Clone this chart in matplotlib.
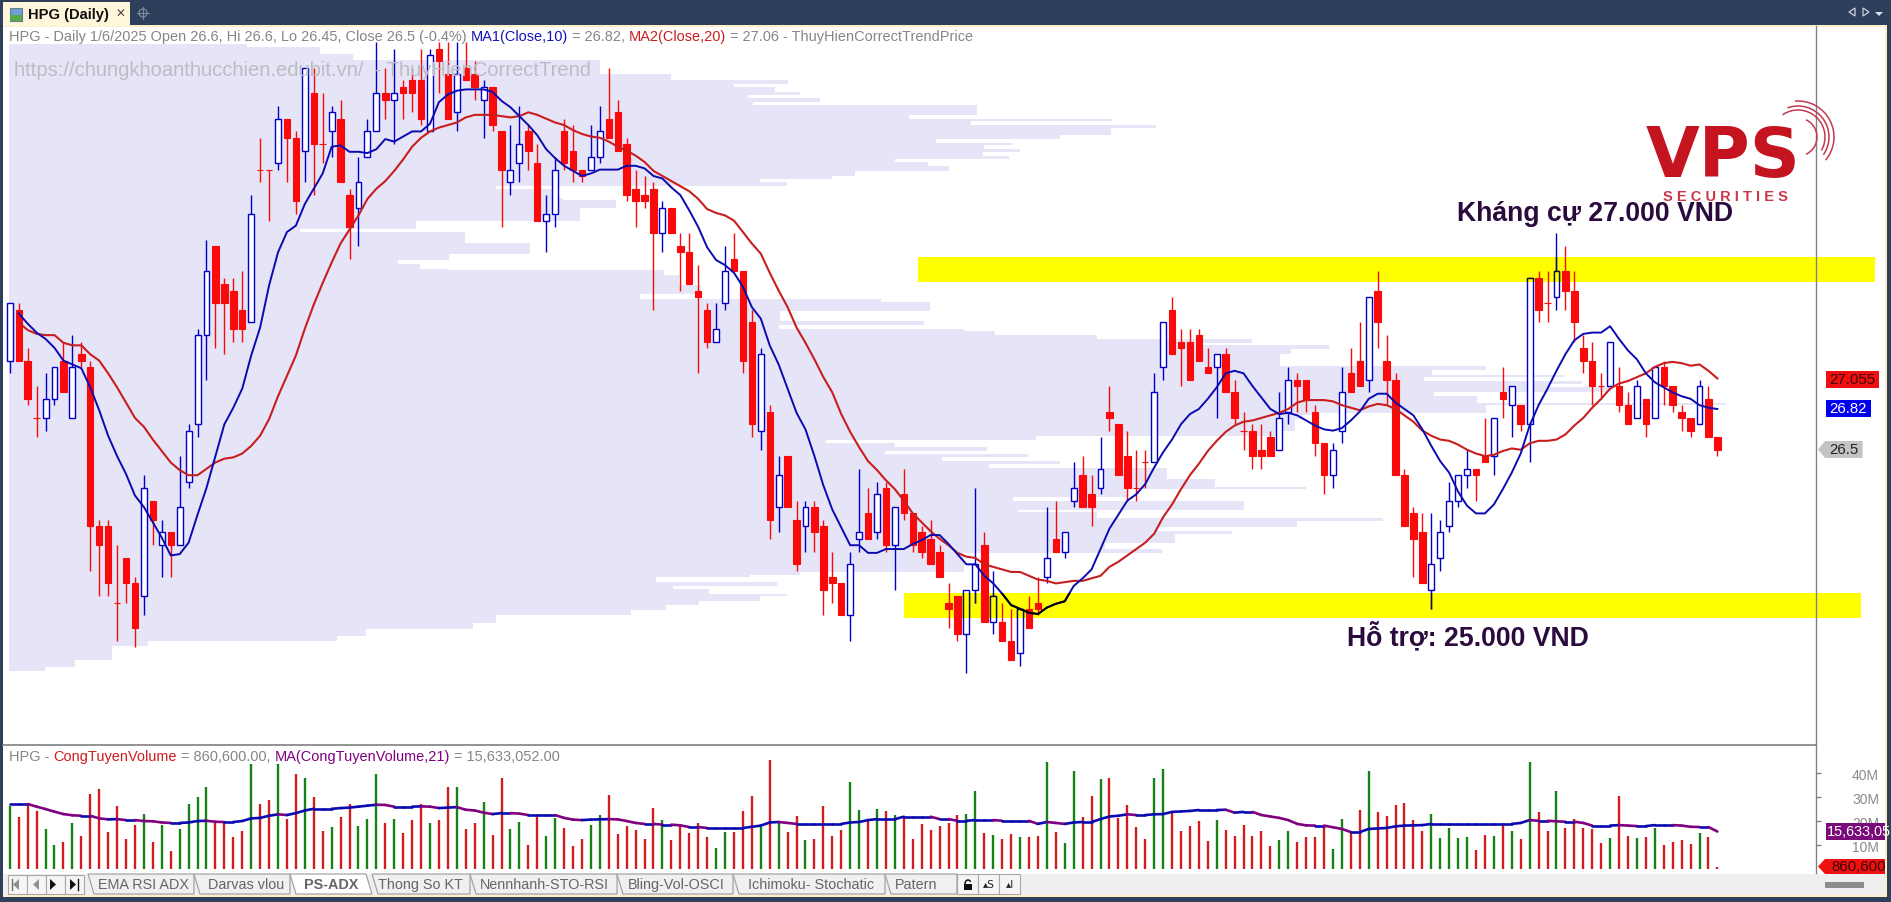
import numpy as np
import matplotlib
matplotlib.use("Agg")
import matplotlib.pyplot as plt
from matplotlib.patches import Rectangle, Polygon, Arc, Circle

# ---------- price data (HPG daily) ----------
opens = [27.2,27.6,27.2,26.75,26.75,26.9,27.2,26.75,27.25,27.15,
 25.9,25.9,25.3,25.65,25.45,25.35,26.1,25.75,25.85,25.75,
 26.25,26.7,27.4,28.1,27.8,27.75,27.6,27.5,28.7,28.7,
 28.75,29.1,28.95,28.85,29.3,28.9,29.0,29.1,28.5,28.4,
 28.8,29.0,29.3,29.25,29.35,29.4,29.4,29.0,29.65,29.45,
 29.15,29.5,29.45,29.25,29.35,29.0,28.6,28.75,29.0,28.75,
 28.3,28.35,29.0,28.85,28.7,28.7,28.8,29.1,29.15,28.9,
 28.55,28.5,28.55,28.2,28.4,28.1,28.05,27.75,27.6,27.35,
 27.65,28.0,27.9,27.5,26.65,26.8,26.05,26.45,25.95,25.9,
 26.05,25.9,25.5,25.45,25.2,25.8,26.0,25.85,26.2,25.75,
 26.15,26.0,25.85,25.8,25.7,25.3,25.35,25.05,25.4,25.75,
 25.15,25.15,25.0,24.9,25.25,25.3,25.5,25.8,25.7,26.1,
 26.3,26.15,26.2,26.8,26.7,26.45,26.2,26.4,26.4,27.15,
 27.6,27.35,27.35,27.4,27.15,27.15,27.25,26.95,26.65,26.65,
 26.5,26.6,26.5,26.8,27.05,27.05,26.8,26.55,26.3,26.65,
 27.1,27.2,27.05,27.75,27.2,27.05,26.3,26.0,25.85,25.4,
 25.65,25.9,26.1,26.3,26.35,26.45,26.45,26.95,26.85,26.85,
 26.7,27.85,27.65,27.7,27.9,27.75,27.3,27.2,27.0,27.0,
 27.0,26.85,26.75,26.9,26.75,27.15,27.0,26.8,26.75,26.7,26.9,26.6]
highs = [27.65,27.65,27.3,27.0,27.1,27.15,27.35,27.4,27.35,27.2,
 25.95,25.95,25.75,25.65,25.5,26.3,26.1,25.95,25.85,26.45,
 26.7,27.45,28.15,28.1,27.85,27.85,27.9,28.5,28.95,28.7,
 29.2,29.1,29.0,29.5,29.5,29.3,29.2,29.25,28.55,28.8,
 29.1,29.7,29.5,29.65,29.4,29.5,29.65,29.65,29.7,29.7,
 29.7,29.7,29.55,29.4,29.35,29.0,29.05,29.2,29.05,28.9,
 28.5,28.8,29.1,29.05,28.7,29.05,29.2,29.5,29.25,28.95,
 28.7,28.65,28.6,28.45,28.4,28.2,28.2,27.95,27.65,27.65,
 28.1,28.2,27.9,27.6,27.3,26.85,26.45,26.45,26.1,26.1,
 26.1,25.95,25.7,25.45,25.7,26.35,26.2,26.25,26.25,26.05,
 26.35,26.0,25.9,25.95,25.75,25.45,25.35,25.4,26.2,25.85,
 25.55,25.3,25.25,25.25,25.35,25.5,26.05,26.1,25.85,26.4,
 26.45,26.3,26.6,27.0,26.7,26.65,26.5,26.5,27.1,27.5,
 27.7,27.45,27.45,27.45,27.3,27.25,27.3,27.05,26.8,26.7,
 26.7,26.65,26.95,27.15,27.1,27.05,26.85,26.55,26.55,27.15,
 27.3,27.5,27.7,27.9,27.4,27.1,26.35,26.05,26.0,26.0,
 25.95,26.25,26.3,26.5,26.35,26.75,26.75,27.15,27.0,26.85,
 27.85,27.9,27.9,28.2,28.1,27.9,27.4,27.35,27.1,27.35,
 27.15,26.95,27.05,26.9,27.15,27.2,27.0,26.85,26.75,27.05,27.0,26.6]
lows = [27.1,27.2,26.85,26.6,26.65,26.85,26.95,26.75,27.15,25.55,
 25.35,25.35,25.0,25.3,24.95,25.2,25.75,25.5,25.5,25.75,
 26.2,26.6,27.05,27.3,27.25,27.35,27.35,27.5,28.6,28.3,
 28.7,28.6,28.35,28.6,28.5,28.75,28.8,28.6,28.0,28.1,
 28.8,29.0,29.1,28.9,29.1,29.15,29.05,29.0,29.3,29.1,
 29.0,29.4,29.25,28.95,29.0,28.25,28.5,28.6,28.7,28.3,
 28.05,28.25,28.7,28.6,28.6,28.7,28.75,28.95,28.85,28.45,
 28.25,28.4,27.6,28.05,28.2,27.75,27.8,27.1,27.3,27.35,
 27.6,27.9,27.1,26.6,26.5,25.8,25.85,26.05,25.55,25.7,
 25.7,25.2,25.3,25.2,25.0,25.7,25.8,25.8,25.7,25.4,
 25.95,25.7,25.65,25.6,25.5,25.1,25.0,24.75,25.3,25.15,
 25.05,25.0,24.85,24.8,25.1,25.2,25.45,25.7,25.65,26.05,
 26.05,25.9,26.15,26.65,26.3,26.1,26.1,26.2,26.4,27.05,
 27.25,27.0,27.05,27.2,27.1,26.75,26.95,26.7,26.5,26.35,
 26.35,26.45,26.5,26.7,26.8,26.8,26.45,26.15,26.2,26.55,
 26.95,27.0,26.95,27.3,26.85,26.3,25.9,25.5,25.45,25.25,
 25.55,25.85,26.05,26.2,26.1,26.4,26.3,26.75,26.6,26.65,
 26.4,27.5,27.5,27.6,27.6,27.35,27.1,26.85,26.9,27.0,
 26.8,26.7,26.75,26.6,26.75,26.85,26.8,26.65,26.6,26.7,26.6,26.45]
closes = [27.65,27.2,26.9,26.75,26.9,27.15,26.95,27.15,27.2,25.9,
 25.75,25.45,25.3,25.45,25.1,26.2,25.95,25.85,25.75,26.05,
 26.65,27.4,27.9,27.65,27.65,27.45,27.45,28.35,28.7,28.7,
 29.1,28.95,28.45,29.5,28.9,28.9,29.15,28.6,28.25,28.6,
 29.0,29.3,29.25,29.3,29.3,29.3,29.1,29.6,29.55,29.1,
 29.45,29.4,29.35,29.35,29.05,28.7,28.7,28.9,28.85,28.3,
 28.35,28.7,28.75,28.7,28.65,28.8,29.0,28.95,28.85,28.5,
 28.45,28.45,28.2,28.4,28.2,28.05,27.8,27.7,27.35,27.45,
 27.9,27.9,27.2,26.7,27.25,25.95,26.3,26.05,25.6,26.05,
 25.85,25.4,25.45,25.2,25.6,25.85,25.8,26.15,25.75,26.05,
 26.0,25.75,25.7,25.6,25.5,25.25,25.05,25.4,25.6,25.15,
 25.35,25.0,24.85,25.25,25.1,25.25,25.65,25.7,25.85,26.2,
 26.05,26.05,26.35,26.75,26.3,26.2,26.2,26.4,26.95,27.5,
 27.25,27.3,27.05,27.2,27.1,27.25,26.95,26.75,26.65,26.45,
 26.45,26.45,26.75,27.05,27.0,26.9,26.55,26.3,26.5,26.95,
 26.95,27.0,27.7,27.5,27.05,26.3,25.9,25.8,25.45,25.6,
 25.85,26.1,26.3,26.35,26.3,26.4,26.75,26.9,27.0,26.7,
 27.85,27.6,27.65,27.9,27.75,27.5,27.2,27.0,27.0,27.35,
 26.85,26.7,27.0,26.7,27.15,27.0,26.85,26.75,26.65,27.0,26.6,26.5]

# moving averages as drawn (from the second candle on)
ma1 = [27.57,27.49,27.42,27.37,27.30,27.20,27.17,27.14,26.99,
 26.81,26.61,26.45,26.31,26.14,26.05,25.93,25.81,25.67,25.68,
 25.77,25.99,26.20,26.45,26.70,26.83,26.98,27.24,27.46,27.79,
 28.05,28.21,28.26,28.43,28.55,28.67,28.88,28.89,28.84,28.84,
 28.83,28.86,28.94,28.92,28.96,29.00,29.00,29.06,29.23,29.29,
 29.32,29.33,29.33,29.33,29.31,29.24,29.19,29.12,29.05,28.97,
 28.86,28.79,28.73,28.69,28.65,28.67,28.70,28.70,28.70,28.73,
 28.73,28.71,28.65,28.63,28.56,28.50,28.38,28.25,28.09,27.99,
 27.95,27.89,27.78,27.62,27.53,27.32,27.17,26.98,26.79,26.66,
 26.45,26.22,26.03,25.89,25.75,25.75,25.69,25.69,25.72,25.72,
 25.72,25.76,25.79,25.83,25.83,25.76,25.68,25.60,25.60,25.51,
 25.45,25.37,25.28,25.25,25.22,25.21,25.26,25.29,25.31,25.43,
 25.49,25.56,25.72,25.88,25.99,26.10,26.15,26.23,26.36,26.48,
 26.58,26.70,26.78,26.82,26.90,26.99,27.10,27.12,27.10,27.00,
 26.91,26.82,26.78,26.79,26.77,26.73,26.69,26.66,26.65,26.67,
 26.73,26.80,26.90,26.94,26.94,26.87,26.82,26.77,26.66,26.53,
 26.41,26.32,26.17,26.06,26.00,26.00,26.07,26.19,26.32,26.47,
 26.69,26.85,26.98,27.12,27.25,27.36,27.41,27.42,27.42,27.47,
 27.37,27.28,27.21,27.10,27.03,26.99,26.95,26.92,26.90,26.85,26.83,26.82]
ma2 = [27.50,27.44,27.41,27.40,27.40,27.34,27.32,27.32,27.25,
 27.20,27.10,26.99,26.87,26.75,26.68,26.58,26.49,26.40,26.34,
 26.30,26.30,26.35,26.40,26.43,26.44,26.47,26.53,26.61,26.74,
 26.92,27.08,27.24,27.45,27.64,27.81,27.97,28.12,28.23,28.34,
 28.47,28.55,28.61,28.69,28.78,28.88,28.95,29.00,29.03,29.05,
 29.07,29.11,29.13,29.13,29.13,29.12,29.11,29.12,29.15,29.13,
 29.10,29.07,29.05,29.01,28.98,28.96,28.95,28.92,28.88,28.85,
 28.81,28.76,28.69,28.65,28.61,28.57,28.53,28.47,28.39,28.36,
 28.34,28.30,28.21,28.12,28.04,27.89,27.75,27.62,27.46,27.34,
 27.21,27.07,26.95,26.78,26.64,26.52,26.41,26.34,26.26,26.19,
 26.10,26.00,25.93,25.86,25.80,25.75,25.69,25.66,25.65,25.60,
 25.58,25.56,25.54,25.54,25.51,25.48,25.47,25.45,25.46,25.47,
 25.47,25.49,25.51,25.58,25.62,25.67,25.72,25.77,25.84,25.97,
 26.07,26.19,26.30,26.39,26.49,26.57,26.64,26.69,26.72,26.73,
 26.75,26.77,26.79,26.82,26.87,26.89,26.89,26.89,26.88,26.85,
 26.83,26.81,26.84,26.86,26.85,26.82,26.77,26.72,26.65,26.61,
 26.58,26.57,26.54,26.50,26.47,26.45,26.46,26.49,26.51,26.50,
 26.55,26.57,26.57,26.58,26.62,26.69,26.75,26.83,26.90,26.98,
 27.02,27.04,27.07,27.10,27.15,27.18,27.19,27.18,27.16,27.17,27.12,27.06]

# volume in millions
volume = [26.3,21.7,26.8,24.2,16.7,10.0,11.3,19.2,13.8,31.3,
 33.3,15.4,26.3,12.5,18.3,22.9,11.3,18.3,7.5,16.7,
 27.1,30.0,34.2,20.0,19.2,13.3,15.8,43.8,27.1,28.8,
 43.8,20.8,39.6,37.9,30.0,15.8,17.5,21.7,27.1,17.9,
 20.8,39.6,19.2,20.8,15.0,20.4,27.1,19.2,20.4,34.2,
 34.2,16.7,19.2,27.9,14.2,37.9,16.7,19.6,10.0,22.5,
 13.8,21.3,17.1,9.6,12.5,18.3,22.5,30.8,14.6,17.9,
 16.3,12.5,25.4,20.4,12.1,18.3,15.0,19.2,13.3,8.8,
 15.4,15.4,24.2,30.4,17.5,45.4,19.6,15.4,22.1,12.1,
 12.5,26.3,13.8,16.3,36.3,24.6,20.0,25.0,24.2,22.5,
 21.7,12.5,18.8,16.3,17.9,19.2,22.5,22.9,32.5,15.0,
 14.2,12.5,14.6,13.3,13.3,13.8,44.6,15.4,10.8,40.8,
 21.7,30.4,37.5,37.9,21.3,26.7,17.5,12.5,37.9,41.7,
 23.3,15.8,17.9,20.0,11.7,20.4,16.3,13.8,18.3,13.8,
 15.8,9.6,12.1,15.8,11.3,13.3,13.3,17.9,8.3,20.8,
 15.0,24.6,40.8,23.8,22.1,26.7,27.5,20.4,15.8,22.9,
 12.9,17.1,12.9,13.3,7.9,14.2,13.8,18.8,15.8,12.5,
 44.6,23.8,15.8,32.5,17.1,20.8,17.1,16.7,10.8,12.9,
 30.4,13.8,12.9,13.3,17.1,10.0,11.3,12.1,10.4,15.0,13.3,0.86]
volume_ma = [27.1,27.1,27.1,26.0,25.0,23.9,22.9,22.4,22.2,22.2,
 21.1,20.7,20.8,20.4,20.4,20.0,19.9,19.4,19.2,19.2,
 19.4,20.0,20.1,19.7,19.6,19.6,20.0,21.1,21.3,22.2,
 22.8,22.5,23.3,24.4,25.1,25.1,25.1,25.4,25.6,26.0,
 26.4,26.8,26.7,26.0,26.0,26.0,26.1,26.0,25.4,25.6,
 25.8,24.7,24.4,23.5,22.9,23.3,23.3,23.1,22.5,22.5,
 22.5,22.5,21.3,20.6,20.4,20.6,20.7,20.8,20.7,20.0,
 19.2,18.8,18.8,18.5,18.5,18.2,17.5,17.5,17.1,17.1,
 17.1,17.1,17.1,17.6,18.1,19.4,19.6,19.2,18.8,18.8,
 18.8,18.8,18.8,18.8,19.4,19.6,20.4,20.8,20.8,20.8,
 21.8,21.8,21.8,21.8,20.8,20.8,20.1,20.1,20.4,20.4,
 20.4,20.1,20.1,20.1,20.1,18.8,19.6,19.2,18.8,19.4,
 19.6,19.6,20.8,21.9,22.2,22.8,22.5,22.5,22.8,22.9,
 23.8,24.0,24.2,24.6,24.6,24.6,24.7,23.5,23.8,23.8,
 22.5,21.9,21.3,20.4,18.8,18.2,18.1,18.1,17.4,16.7,
 15.4,15.4,16.7,16.9,17.1,17.8,18.1,18.2,18.3,18.8,
 18.8,18.8,18.8,18.8,18.8,18.8,18.8,18.8,18.8,19.2,
 20.4,20.1,20.1,19.9,19.7,19.7,19.2,18.1,18.1,18.1,
 18.3,18.1,17.9,17.9,18.3,18.3,18.3,18.1,17.6,17.5,17.5,15.63]

# horizontal volume profile: price edges (top to bottom) and relative volume per row
profile_edges = [29.69,29.66,29.61,29.56,29.45,29.40,29.37,29.35,29.31,29.29,
 29.26,29.23,29.21,29.13,29.10,29.08,29.05,29.03,28.97,28.94,
 28.91,28.89,28.86,28.84,28.81,28.78,28.76,28.73,28.69,28.65,
 28.63,28.60,28.57,28.55,28.48,28.46,28.40,28.30,28.23,28.21,
 28.12,28.04,27.99,27.96,27.92,27.91,27.87,27.79,27.72,27.68,
 27.66,27.59,27.51,27.48,27.45,27.43,27.40,27.37,27.34,27.32,
 27.29,27.25,27.16,27.13,27.09,27.07,27.04,27.02,26.99,26.95,
 26.92,26.87,26.85,26.79,26.77,26.74,26.65,26.61,26.58,26.55,
 26.52,26.49,26.47,26.44,26.41,26.39,26.36,26.27,26.21,26.19,
 26.13,26.10,26.03,26.01,25.96,25.94,25.89,25.86,25.84,25.77,
 25.72,25.69,25.54,25.52,25.50,25.46,25.43,25.41,25.37,25.35,
 25.31,25.28,25.24,25.20,25.14,25.09,25.04,25.00,24.96,24.85,24.79,24.76]
profile_volume = [238,311,344,591,662,779,725,766,791,739,
 811,744,968,900,1103,962,1147,1102,1051,927,
 1004,975,1011,974,1000,886,919,940,846,823,
 751,778,487,546,554,607,571,407,291,456,
 521,440,389,411,440,655,670,692,631,872,
 921,771,915,770,955,986,1088,1243,1186,1320,
 1282,1271,1477,1423,1555,1415,1573,1540,1602,1425,
 1468,1717,1477,1310,1294,1286,1271,1027,817,886,
 978,876,1019,933,1051,980,1158,1206,1297,1119,
 1004,1235,1009,1088,1374,1288,1149,1223,1166,1096,
 1153,955,791,741,647,768,664,700,778,751,
 690,657,622,487,464,357,328,139,103,66,36]

# hand-drawn zones (price top, price bottom, first candle position, last position)
resistance_zone = (28.01, 27.82, 101.6, 208.6)
support_zone = (25.375, 25.18, 100.0, 207.1)

vol_ticks = [10, 20, 30, 40]
vol_tick_labels = ['10M', '20M', '30M', '40M']
sheet_tabs = ['EMA RSI ADX', 'Darvas vlou', 'PS-ADX', 'Thong So KT', 'Nennhanh-STO-RSI',
              'Bling-Vol-OSCI', 'Ichimoku- Stochatic', 'Patern']

# ---------- styles ----------
DARK = '#2d3f5a'
CREAM = '#fdf0c8'
LAV = '#e6e4f7'
GRAY = '#8a8a8a'
UP_EDGE = '#0000c8'
DN = '#fa0a0a'
MA1C = '#0a0ab0'
MA2C = '#c81e1e'
FONT = 'Liberation Sans'
plt.rcParams['font.family'] = [FONT, 'DejaVu Sans']

W, H = 1891, 903
fig = plt.figure(figsize=(W/100, H/100), dpi=100, facecolor=DARK)

def axes_px(x0, y0, x1, y1, **kw):
    return fig.add_axes([x0/W, 1-y1/H, (x1-x0)/W, (y1-y0)/H], **kw)

# background panel
bg = fig.add_axes([0, 0, 1, 1], zorder=0)
bg.set_xlim(0, W); bg.set_ylim(H, 0); bg.axis('off')
bg.add_patch(Rectangle((3, 27), 1882, 871, fc='white', ec='none'))
bg.add_patch(Rectangle((3, 26), 1883, 2, fc=CREAM, ec='none'))
bg.add_patch(Rectangle((1885, 26), 1.5, 872, fc=CREAM, ec='none'))
bg.add_patch(Rectangle((3, 896), 1883, 2, fc=CREAM, ec='none'))

XLIM = (-0.76, 202.03)
x = np.arange(len(closes))
o, h, l, c = map(np.array, (opens, highs, lows, closes))
up = c > o
dn = ~up

# ---------- price pane ----------
ax = axes_px(3, 27, 1816, 746, zorder=1)
ax.set_xlim(*XLIM); ax.set_ylim(24.181, 29.828)
ax.patch.set_alpha(0)
for s in ('top', 'left', 'bottom'):
    ax.spines[s].set_visible(False)
ax.spines['right'].set_color('#808080'); ax.spines['right'].set_linewidth(1)
ax.set_xticks([]); ax.set_yticks([])

edges = np.array(profile_edges)[::-1]
prof = np.array(profile_volume, float)[::-1]
PX = 8.94
ax.stairs(prof/PX - 0.09, edges, orientation='horizontal', baseline=-0.09,
          fill=True, color=LAV, lw=0, zorder=1)

band_patches = []
for top, bot, a, b in (resistance_zone, support_zone):
    r = Rectangle((a, bot), b-a, top-bot, fc='#ffff00', ec='none', zorder=2, clip_on=False)
    ax.add_patch(r)
    band_patches.append(r)

WID = 0.72
ax.vlines(x[dn], l[dn], h[dn], color=DN, lw=1.0, zorder=3)
ax.vlines(x[up], l[up], h[up], color=UP_EDGE, lw=1.0, zorder=3)
ax.bar(x[dn], (c-o)[dn], bottom=o[dn], width=WID, fc=DN, ec=DN, lw=0.8, zorder=3.2)
ax.bar(x[up], (c-o)[up], bottom=o[up], width=WID*0.92, fc='white', ec=UP_EDGE, lw=1.0, zorder=3.2)

# where the marker zones lie over the up candles the colours multiply
for r in band_patches:
    wk = ax.vlines(x[up], l[up], h[up], color='#101030', lw=1.0, zorder=3.3)
    wk.set_clip_path(r)
    bars = ax.bar(x[up], (c-o)[up], bottom=o[up], width=WID*0.92, fc='#ffff00', ec='#101030', lw=1.0, zorder=3.4)
    for p in bars:
        p.set_clip_path(r)

ma_x = x[1:]
ax.plot(ma_x, ma2, color=MA2C, lw=1.5, zorder=4)
ax.plot(ma_x, ma1, color=MA1C, lw=1.4, zorder=4.1)
for r in band_patches:
    ln, = ax.plot(ma_x, ma1, color='#000000', lw=1.4, zorder=4.2)
    ln.set_clip_path(r)

# ---------- volume pane ----------
va = axes_px(3, 746, 1816, 875, zorder=1)
va.set_xlim(*XLIM); va.set_ylim(-2.08, 51.7)
va.patch.set_alpha(0)
for s in ('left', 'bottom'):
    va.spines[s].set_visible(False)
va.spines['top'].set_color('#808080'); va.spines['top'].set_linewidth(1.2)
va.spines['right'].set_color('#808080'); va.spines['right'].set_linewidth(1)
vcol = np.where(up, '#148214', '#d01c1c')
v = np.array(volume)
va.vlines(x, 0, v, colors=vcol, lw=1.7, zorder=2)
vm = np.array(volume_ma)
for i in range(len(vm)-1):
    colr = '#800080' if vm[i+1] < vm[i] else '#0a0ab0'
    va.plot(x[i:i+2], vm[i:i+2], color=colr, lw=1.9, zorder=3, solid_capstyle='round')
va.set_xticks([])
va.yaxis.tick_right()
va.set_yticks(vol_ticks)
va.set_yticklabels(vol_tick_labels)
va.tick_params(axis='y', length=3.6, width=1, color='#808080', labelcolor=GRAY, labelsize=10, pad=22.3)

# ---------- overlay (window chrome, captions, tags) ----------
ov = fig.add_axes([0, 0, 1, 1], zorder=10)
ov.set_xlim(0, W); ov.set_ylim(H, 0); ov.axis('off'); ov.patch.set_alpha(0)
rend = fig.canvas.get_renderer()

def pieces(x0, y, parts, size):
    from matplotlib.font_manager import FontProperties
    fp = FontProperties(family=FONT, size=size)
    bar = rend.get_text_width_height_descent('|', fp, False)[0]
    for s, col in parts:
        ov.text(x0, y, s, color=col, fontproperties=fp, va='center', ha='left')
        x0 += rend.get_text_width_height_descent(s+'|', fp, False)[0] - bar

TG = '#868686'
pieces(9, 37, [('HPG - Daily 1/6/2025 Open 26.6, Hi 26.6, Lo 26.45, Close 26.5 (-0.4%) ', TG),
               ('MA1(Close,10)', '#1414b4'), (' = 26.82, ', TG),
               ('MA2(Close,20)', '#c81e1e'), (' = 27.06 - ThuyHienCorrectTrendPrice', TG)], 10.45)
pieces(9, 757, [('HPG - ', TG), ('CongTuyenVolume', '#d01c1c'), (' = 860,600.00, ', TG),
                ('MA(CongTuyenVolume,21)', '#800080'), (' = 15,633,052.00', TG)], 10.45)
ov.text(14, 71, 'https://chungkhoanthucchien.edubit.vn/  - ThuyHienCorrectTrend', color='#bcbcc4',
        fontsize=14.5, va='center', ha='left')

# annotations
ANN = '#2b0a3d'
ov.text(1457, 214, 'Kháng cự 27.000 VND', color=ANN, fontsize=19.2, fontweight='bold', va='center', ha='left')
ov.text(1347, 637, 'Hỗ trợ: 25.000 VND', color=ANN, fontsize=19.2, fontweight='bold', va='center', ha='left')

# logo
ov.text(1723, 157, 'VPS', color='#c4141f', fontsize=50, fontweight='bold', family='DejaVu Sans', va='center', ha='center')
ov.text(1725, 197, 'S E C U R I T I E S', color='#c8384a', fontsize=10.5, fontweight='bold', va='center', ha='center')
for rad, t1, t2 in ((36, -95, 40), (31, -110, 35), (27, -125, 30), (19, -65, 65)):
    ov.add_patch(Arc((1798, 138), 2*rad, 2*rad, theta1=t1, theta2=t2, color='#c03a50', lw=1.1))

# price tags
def tag(x0, x1, y0, y1, fc, txt, tc, arrow=None, size=10.8, tx=None):
    if arrow is None:
        pts = [(x0, y0), (x1, y0), (x1, y1), (x0, y1)]
    else:
        pts = [(arrow, (y0+y1)/2), (x0, y0), (x1, y0), (x1, y1), (x0, y1)]
    ov.add_patch(Polygon(pts, closed=True, fc=fc, ec='none'))
    ov.text(tx if tx else (x0+x1)/2, (y0+y1)/2, txt, color=tc, fontsize=size, ha='center', va='center', clip_on=True)

tag(1825.6, 1879, 372, 389, '#f01010', '27.055', '#3a0808')
tag(1825.6, 1871, 401, 418, '#0000f0', '26.82', 'white')
tag(1825, 1862.6, 442, 459, '#c4c4c4', '26.5', '#222222', arrow=1818)
ov.add_patch(Rectangle((1825.6, 824), 59.4, 17, fc='#7a0a7a', ec='none'))
ov.text(1827, 832.5, '15,633,05', color='white', fontsize=10.4, ha='left', va='center')
ov.add_patch(Polygon([(1818, 867.5), (1825, 860), (1885, 860), (1885, 875), (1825, 875)], closed=True, fc='#f01010', ec='none'))
ov.text(1831, 867.5, '860,600', color='#3a0808', fontsize=10.8, ha='left', va='center')

# title tab
ov.add_patch(Rectangle((3, 3), 127, 24, fc='#fff6dc', ec='none'))
ov.add_patch(Rectangle((10, 9), 12, 13, fc='#6f9fd8', ec='#6a7a90', lw=0.8))
ov.add_patch(Rectangle((10, 16), 12, 6, fc='#5aa84a', ec='none'))
ov.text(28, 15, 'HPG (Daily)', color='#101010', fontsize=10.6, fontweight='bold', va='center', ha='left')
ov.text(120, 14, '✕', color='#444444', fontsize=8.5, family='DejaVu Sans', va='center', ha='center')
ov.add_patch(Circle((143, 14), 4, fc='none', ec='#7a8aa0', lw=0.9))
ov.plot([143, 143], [8, 20], color='#7a8aa0', lw=0.8)
ov.plot([137, 149], [14, 14], color='#7a8aa0', lw=0.8)
for ax0, dirn in ((1852, -1), (1866, 1)):
    ov.add_patch(Polygon([(ax0+dirn*3, 13), (ax0-dirn*3, 9), (ax0-dirn*3, 17)], closed=True, fc='none', ec='#c8d0dc', lw=0.9))
ov.add_patch(Polygon([(1875, 13), (1883, 13), (1879, 17)], closed=True, fc='#d8dee8', ec='none'))

# sheet tabs bar
ov.add_patch(Rectangle((3, 875), 1882, 21, fc='#efefef', ec='none'))
for i in range(4):
    ov.add_patch(Rectangle((8+19*i, 876), 19, 19, fc='#f5f5f5', ec='#a8a8a8', lw=0.8))
ov.add_patch(Polygon([(13, 885.5), (19, 880), (19, 891)], closed=True, fc='#909090', ec='none'))
ov.plot([12, 12], [880, 891], color='#707070', lw=1)
ov.add_patch(Polygon([(33, 885.5), (39, 880), (39, 891)], closed=True, fc='#909090', ec='none'))
ov.add_patch(Polygon([(56, 885.5), (50, 880), (50, 891)], closed=True, fc='#101010', ec='none'))
ov.add_patch(Polygon([(76, 885.5), (70, 880), (70, 891)], closed=True, fc='#101010', ec='none'))
ov.plot([78, 78], [880, 891], color='#101010', lw=1)

tab_edges = [88, 194, 290, 372, 470, 617, 733, 885, 957]
tab_centers = [144, 246, 331, 420, 544, 676, 811, 916]
for i, name in enumerate(sheet_tabs):
    a, b = tab_edges[i], tab_edges[i+1]
    active = name == 'PS-ADX'
    ov.add_patch(Polygon([(a, 875), (a+6, 895), (b, 895), (b+(-6 if active else 0), 875)], closed=True,
                         fc='white' if active else '#f0f0f0', ec='#a4a4a4', lw=0.9, zorder=3 if active else 2))
    ov.text(tab_centers[i], 885, name, color='#666666', fontsize=10.4, ha='center', va='center',
            fontweight='bold' if active else 'normal', zorder=4)
for i, s in enumerate(['', '▴S', '▴I']):
    ov.add_patch(Rectangle((957+21*i, 875), 21, 20, fc='#f5f5f5', ec='#a8a8a8', lw=0.8))
    if s:
        ov.text(968+21*i, 885, s, color='#222222', fontsize=7.5, family='DejaVu Sans', ha='center', va='center')
ov.add_patch(Rectangle((964, 885), 8, 6, fc='#111111', ec='none'))
ov.add_patch(Arc((968, 885), 6, 8, theta1=180, theta2=320, color='#111111', lw=1.1))
ov.add_patch(Rectangle((1825, 883), 39, 6, fc='#8c8c8c', ec='none'))

fig.savefig('out.png', dpi=100, facecolor=DARK)
